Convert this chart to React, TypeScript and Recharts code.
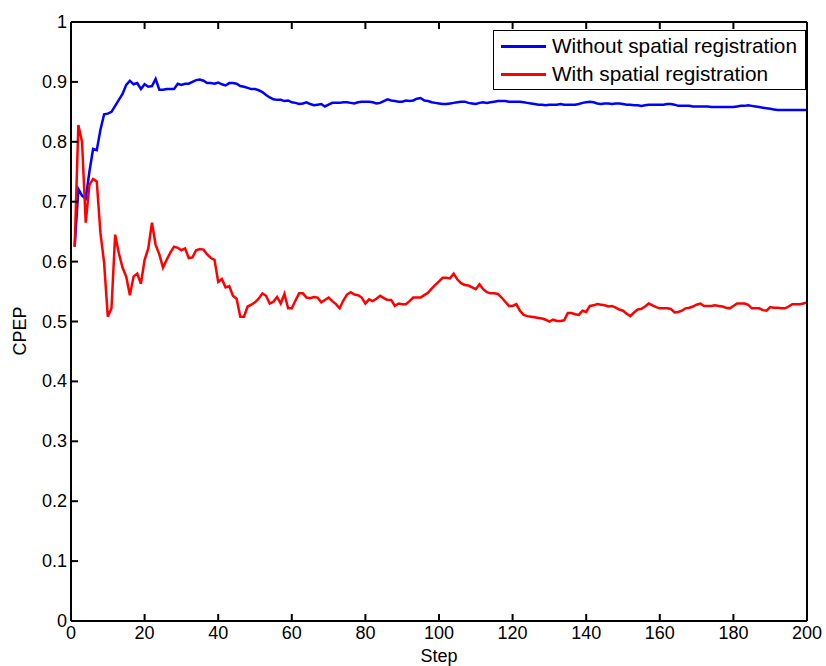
import React from 'react';
import { LineChart, Line, XAxis, YAxis, Legend } from 'recharts';

const xTicks = [0, 20, 40, 60, 80, 100, 120, 140, 160, 180, 200];
const yTicks = [0, 0.1, 0.2, 0.3, 0.4, 0.5, 0.6, 0.7, 0.8, 0.9, 1];

// CPEP per step (1..200)
const withoutReg = [
  0.625, 0.721, 0.710, 0.705, 0.750, 0.788, 0.786, 0.820, 0.846, 0.847,
  0.850, 0.860, 0.870, 0.880, 0.895, 0.902, 0.896, 0.898, 0.888, 0.896,
  0.892, 0.893, 0.905, 0.887, 0.887, 0.888, 0.888, 0.888, 0.897, 0.895,
  0.897, 0.897, 0.900, 0.903, 0.904, 0.902, 0.898, 0.898, 0.897, 0.899,
  0.896, 0.894, 0.898, 0.898, 0.897, 0.893, 0.892, 0.890, 0.888, 0.888,
  0.886, 0.883, 0.878, 0.874, 0.871, 0.870, 0.870, 0.868, 0.869, 0.866,
  0.865, 0.863, 0.864, 0.866, 0.863, 0.861, 0.862, 0.863, 0.859, 0.862,
  0.865, 0.865, 0.865, 0.866, 0.866, 0.865, 0.864, 0.866, 0.867, 0.867,
  0.867, 0.866, 0.864, 0.865, 0.868, 0.871, 0.869, 0.868, 0.867, 0.867,
  0.869, 0.868, 0.869, 0.872, 0.873, 0.869, 0.868, 0.866, 0.865, 0.864,
  0.863, 0.863, 0.864, 0.865, 0.866, 0.867, 0.867, 0.865, 0.864, 0.863,
  0.865, 0.866, 0.865, 0.866, 0.867, 0.868, 0.868, 0.868, 0.867, 0.867,
  0.867, 0.867, 0.866, 0.865, 0.864, 0.863, 0.862, 0.862, 0.861, 0.862,
  0.862, 0.862, 0.863, 0.862, 0.862, 0.862, 0.862, 0.863, 0.865, 0.866,
  0.867, 0.866, 0.864, 0.863, 0.864, 0.864, 0.863, 0.864, 0.864, 0.863,
  0.862, 0.862, 0.861, 0.861, 0.860, 0.861, 0.862, 0.862, 0.862, 0.862,
  0.862, 0.863, 0.863, 0.862, 0.860, 0.860, 0.860, 0.860, 0.859, 0.859,
  0.859, 0.859, 0.859, 0.858, 0.858, 0.858, 0.858, 0.858, 0.858, 0.858,
  0.859, 0.860, 0.860, 0.861, 0.860, 0.859, 0.858, 0.857, 0.856, 0.855,
  0.854, 0.853, 0.853, 0.853, 0.853, 0.853, 0.853, 0.853, 0.853, 0.853,
];

const withReg = [
  0.625, 0.828, 0.800, 0.665, 0.728, 0.738, 0.734, 0.648, 0.598, 0.508,
  0.522, 0.645, 0.614, 0.590, 0.575, 0.544, 0.575, 0.580, 0.563, 0.603,
  0.622, 0.665, 0.628, 0.612, 0.590, 0.603, 0.615, 0.625, 0.623, 0.619,
  0.622, 0.606, 0.607, 0.619, 0.621, 0.620, 0.612, 0.606, 0.603, 0.566,
  0.571, 0.557, 0.559, 0.543, 0.538, 0.508, 0.508, 0.525, 0.528, 0.532,
  0.538, 0.547, 0.543, 0.530, 0.533, 0.541, 0.530, 0.546, 0.522, 0.522,
  0.535, 0.547, 0.547, 0.540, 0.539, 0.541, 0.540, 0.532, 0.536, 0.540,
  0.534, 0.529, 0.522, 0.535, 0.545, 0.549, 0.545, 0.544, 0.540, 0.530,
  0.537, 0.534, 0.538, 0.543, 0.539, 0.536, 0.536, 0.526, 0.530, 0.529,
  0.529, 0.534, 0.540, 0.540, 0.540, 0.544, 0.548, 0.555, 0.561, 0.567,
  0.573, 0.573, 0.572, 0.580, 0.570, 0.564, 0.561, 0.560, 0.557, 0.554,
  0.562, 0.554, 0.549, 0.547, 0.547, 0.546, 0.540, 0.533, 0.526, 0.526,
  0.529, 0.518, 0.511, 0.509, 0.508, 0.507, 0.506, 0.505, 0.503, 0.500,
  0.503, 0.501, 0.501, 0.502, 0.514, 0.514, 0.512, 0.511, 0.518, 0.516,
  0.526, 0.527, 0.529, 0.528, 0.527, 0.525, 0.526, 0.523, 0.520, 0.518,
  0.513, 0.509, 0.515, 0.520, 0.521, 0.525, 0.530, 0.527, 0.524, 0.522,
  0.522, 0.522, 0.521, 0.515, 0.516, 0.518, 0.522, 0.523, 0.525, 0.528,
  0.530, 0.526, 0.526, 0.526, 0.527, 0.526, 0.525, 0.523, 0.522, 0.526,
  0.530, 0.530, 0.530, 0.528, 0.522, 0.522, 0.522, 0.519, 0.518, 0.524,
  0.523, 0.523, 0.522, 0.522, 0.525, 0.529, 0.529, 0.529, 0.530, 0.532,
];

const data = withReg.map((v, i) => ({ step: i + 1, without: withoutReg[i], with: v }));

const FONT = 'Arial, "Liberation Sans", Helvetica, sans-serif';
const TICK_LEN = 7;

// inward tick marks (MATLAB style), plus the label for bottom / left
function makeTick(side: 'bottom' | 'top' | 'left' | 'right') {
  return (props: any) => {
    const { x, y, payload } = props;
    const v = payload.value;
    if (side === 'bottom') {
      return (
        <g>
          <line x1={x} x2={x} y1={y} y2={y - TICK_LEN} stroke="#000" strokeWidth={2} />
          <text x={x} y={y + 18} textAnchor="middle" fontSize={18} fontFamily={FONT} fill="#000">{v}</text>
        </g>
      );
    }
    if (side === 'top') {
      return <line x1={x} x2={x} y1={y} y2={y + TICK_LEN} stroke="#000" strokeWidth={2} />;
    }
    if (side === 'left') {
      return (
        <g>
          <line x1={x} x2={x + TICK_LEN} y1={y} y2={y} stroke="#000" strokeWidth={2} />
          <text x={x - 4} y={y + 6} textAnchor="end" fontSize={18} fontFamily={FONT} fill="#000">{v}</text>
        </g>
      );
    }
    return <line x1={x} x2={x - TICK_LEN} y1={y} y2={y} stroke="#000" strokeWidth={2} />;
  };
}

function LegendBox() {
  const row = (color: string, text: string) => (
    <div style={{ display: 'flex', alignItems: 'center', height: 28 }}>
      <div style={{ width: 45, height: 3, background: color, marginRight: 6 }} />
      <span>{text}</span>
    </div>
  );
  return (
    <div
      style={{
        border: '1px solid #000',
        background: '#fff',
        padding: '1px 8px 1px 7px',
        fontFamily: FONT,
        fontSize: 20.8,
        color: '#000',
        lineHeight: 1,
        whiteSpace: 'nowrap',
      }}
    >
      {row('#0000ff', 'Without spatial registration')}
      {row('#ff0000', 'With spatial registration')}
    </div>
  );
}

export default function App() {
  return (
    <div style={{ position: 'absolute', left: 0, top: 0, background: '#fff' }}>
      <LineChart width={826} height={666} data={data} margin={{ top: 21, right: 18, bottom: 15, left: 11 }}>
        <XAxis
          dataKey="step"
          type="number"
          domain={[0, 200]}
          ticks={xTicks}
          interval={0}
          height={30}
          stroke="#000"
          strokeWidth={2}
          tickLine={false}
          tickSize={0}
          tickMargin={0}
          tick={makeTick('bottom')}
          label={{ value: 'Step', position: 'insideBottom', offset: -11, fill: '#000', fontSize: 18, fontFamily: FONT }}
        />
        <XAxis
          xAxisId="top"
          orientation="top"
          dataKey="step"
          type="number"
          domain={[0, 200]}
          ticks={xTicks}
          interval={0}
          height={1}
          stroke="#000"
          strokeWidth={2}
          tickLine={false}
          tickSize={0}
          tickMargin={0}
          tick={makeTick('top')}
        />
        <YAxis
          type="number"
          domain={[0, 1]}
          ticks={yTicks}
          interval={0}
          width={60}
          stroke="#000"
          strokeWidth={2}
          tickLine={false}
          tickSize={0}
          tickMargin={0}
          tick={makeTick('left')}
          label={{ value: 'CPEP', angle: -90, position: 'insideLeft', offset: 0, dx: 9, dy: 34, fill: '#000', fontSize: 18, fontFamily: FONT }}
        />
        <YAxis
          yAxisId="right"
          orientation="right"
          type="number"
          domain={[0, 1]}
          ticks={yTicks}
          interval={0}
          width={1}
          stroke="#000"
          strokeWidth={2}
          tickLine={false}
          tickSize={0}
          tickMargin={0}
          tick={makeTick('right')}
        />
        <Legend
          verticalAlign="middle"
          align="center"
          content={() => <LegendBox />}
          wrapperStyle={{ top: 30, right: 20, left: 'auto', bottom: 'auto', width: 'auto' }}
        />
        <Line dataKey="without" name="Without spatial registration" stroke="#0000ff" strokeWidth={2.5} dot={false} isAnimationActive={false} />
        <Line dataKey="with" name="With spatial registration" stroke="#ff0000" strokeWidth={2.5} dot={false} isAnimationActive={false} />
      </LineChart>
    </div>
  );
}
